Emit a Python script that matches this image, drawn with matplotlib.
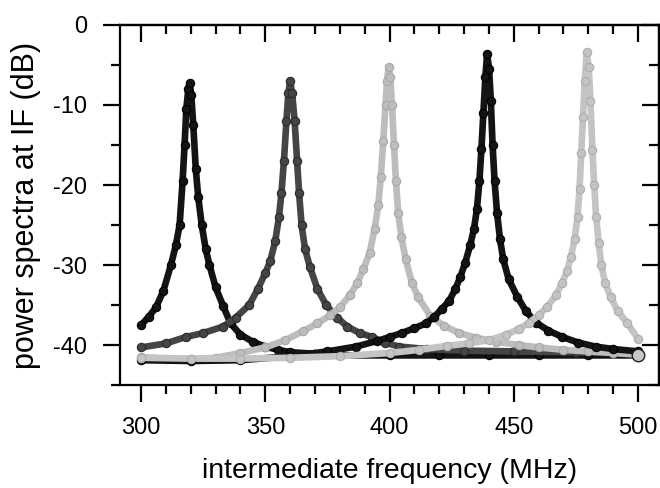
import numpy as np
import matplotlib
matplotlib.use("Agg")
import matplotlib.pyplot as plt
from matplotlib.ticker import MultipleLocator

plt.rcParams['font.family'] = ['Liberation Sans', 'DejaVu Sans']
plt.rcParams['axes.unicode_minus'] = False

# spectra: frequency (MHz) and power (dB)
f1 = [300, 303, 306, 309, 312, 314, 315.5, 316.7, 317.5, 318.2, 319, 319.5,
      320.2, 321, 322, 323, 324.4, 326, 327.5, 330, 333, 336, 340, 345, 350,
      355, 360, 370, 380, 400, 420, 440, 460, 480, 500]
p1 = [-37.5, -36.5, -35.3, -33.2, -30, -27.5, -25, -19.5, -15, -10.5, -8, -7.2,
      -8.8, -12.5, -18, -21.5, -25, -28, -30, -32.8, -35.1, -37.3, -38.7, -39.6, -40.2,
      -40.6, -40.9, -41.1, -41.3, -41.3, -41.3, -41.3, -41.3, -41.3, -41.3]

f2 = [300, 310, 318, 325, 333, 338, 343.5, 347, 350, 352, 354, 355.5, 356.5,
      357.5, 358.5, 359.3, 360, 360.8, 361.8, 362.8, 363.6, 364.6, 366, 368,
      371, 374.5, 379, 383, 388, 393, 398, 404, 415, 430, 450, 475, 500]
p2 = [-40.3, -39.8, -39.0, -38.5, -37.7, -36.6, -35, -33, -31, -29.5, -27, -24, -21,
      -17, -12, -8.5, -7.0, -8.5, -12, -17, -21, -25, -28, -30.3,
      -33, -35, -36.6, -37.7, -38.5, -39, -39.7, -40.2, -40.5, -40.7, -40.8, -40.9, -41.0]

f3 = [300, 310, 320, 330, 340, 350, 358, 365, 371, 376, 380, 384, 387, 389.5,
      392, 394, 395.5, 396.5, 397.5, 398.4, 399.0, 399.6, 400.3, 401, 401.8,
      402.6, 403.5, 404.8, 406.5, 409, 411.5, 416.5, 422, 428, 435, 443, 452,
      460, 470, 480, 490, 500]
p3 = [-41.5, -41.7, -41.8, -41.6, -41.0, -40.3, -39.4, -38.3, -37.3, -36.3, -35.3, -33.8,
      -32.3, -30.5, -28.5, -25.5, -22.5, -19, -14.5, -10, -7, -5.3, -6.5, -10, -15,
      -19.5, -23.5, -26.5, -29.3, -32.2, -34, -36.4, -37.6, -38.5, -39.1, -39.6, -40,
      -40.3, -40.6, -40.8, -41.0, -41.2]

f4 = [300, 320, 340, 360, 375, 386.5, 395, 400, 405, 410, 414.7, 418, 421, 424,
      426.5, 428.5, 430.5, 432.5, 434, 435.2, 436.2, 437, 437.8, 438.6, 439.3,
      440.1, 440.8, 441.5, 442.3, 443.3, 444.5, 445.8, 448, 451.5, 455, 459,
      464, 469.6, 476, 483, 490, 500]
p4 = [-41.9, -42.0, -41.9, -41.4, -40.8, -40.2, -39.5, -39.0, -38.5, -37.9, -37.3, -36.5,
      -35.5, -34.5, -33, -31.5, -29.7, -27.5, -25.5, -23, -19.5, -15.5, -11, -6.5, -3.6,
      -5.5, -9.5, -15.0, -19.5, -23.5, -26.8, -29.3, -31.8, -34, -35.8, -37.2,
      -38.2, -39, -39.7, -40.2, -40.5, -40.8]

f5 = [300, 320, 340, 360, 380, 400, 412, 423, 432, 440, 447, 452, 456.3, 460,
      463.5, 467, 469.5, 471.5, 473, 474.5, 475.7, 476.5, 477.2, 477.9, 478.6,
      479.4, 480.2, 480.9, 481.7, 482.4, 483.2, 484.2, 485.3, 486.8, 489, 492,
      495.8, 500]
p5 = [-41.6, -41.7, -41.7, -41.6, -41.4, -41.0, -40.6, -40.1, -39.8, -39.4, -38.7, -38.0,
      -37.2, -36.3, -35.2, -33.8, -32.2, -30.8, -29, -26.8, -24, -20.5, -16, -11.5, -7,
      -3.4, -5.3, -9.5, -15.6, -20, -24, -27.2, -30, -32.2, -34, -35.8, -37.3, -39.2]

series = [(f1, p1), (f2, p2), (f3, p3), (f4, p4), (f5, p5)]
fills = ['#141414', '#454545', '#bdbdbd', '#141414', '#c4c4c4']
edges = ['#000000', '#2a2a2a', '#a8a8a8', '#000000', '#adadad']

fig = plt.figure(figsize=(6.6, 4.88), dpi=100)
ax = fig.add_axes([120 / 660, 1 - 385 / 488, 539 / 660, 360 / 488])

for (f, p), c, e in zip(series, fills, edges):
    ax.plot(f, p, color=c, lw=4.8, solid_capstyle='round', solid_joinstyle='round')
    ax.plot(f, p, ls='none', marker='o', ms=6, mfc=c, mec=e, mew=0.8)

# end point marker drawn larger
ax.plot(f3[-1], p3[-1], marker='o', ms=9, mfc='#c8c8c8', mec='#202020', mew=1.0)

ax.set_xlim(291.5, 508.5)
ax.set_ylim(-45, 0)

for s in ax.spines.values():
    s.set_linewidth(1.6)

ax.xaxis.set_major_locator(MultipleLocator(50))
ax.xaxis.set_minor_locator(MultipleLocator(10))
ax.yaxis.set_major_locator(MultipleLocator(10))
ax.yaxis.set_minor_locator(MultipleLocator(5))
ax.tick_params(which='major', direction='out', length=12, width=1.6, labelsize=17, pad=11.5)
ax.tick_params(which='minor', direction='out', length=6.5, width=1.6)
ax.tick_params(axis='x', which='major', pad=11)

top = ax.secondary_xaxis('top')
top.xaxis.set_major_locator(MultipleLocator(50))
top.xaxis.set_minor_locator(MultipleLocator(10))
top.tick_params(which='major', direction='in', length=12, width=1.6, labeltop=False)
top.tick_params(which='minor', direction='in', length=6.5, width=1.6)
top.spines['top'].set_linewidth(1.6)

right = ax.secondary_yaxis('right')
right.yaxis.set_major_locator(MultipleLocator(10))
right.yaxis.set_minor_locator(MultipleLocator(5))
right.tick_params(which='major', direction='in', length=12, width=1.6, labelright=False)
right.tick_params(which='minor', direction='in', length=7, width=1.6)
right.spines['right'].set_linewidth(1.6)

ax.set_xlabel('intermediate frequency (MHz)', fontsize=20.5, labelpad=14)
ax.set_ylabel('power spectra at IF (dB)', fontsize=22, labelpad=9)

fig.savefig('out.png', dpi=100)
